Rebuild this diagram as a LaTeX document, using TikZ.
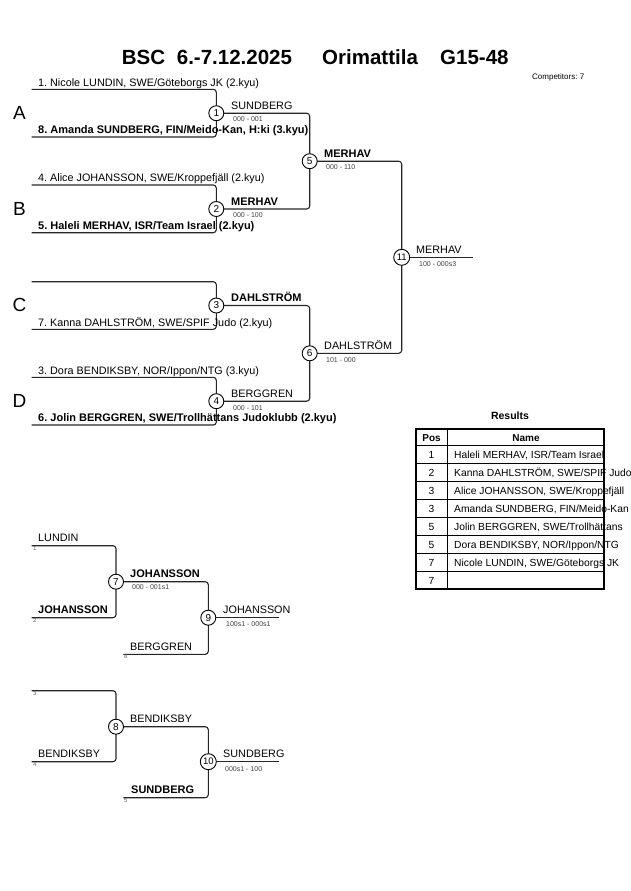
\documentclass[tikz,border=0pt]{standalone}
\usepackage{fontspec}
\setmainfont{Liberation Sans}
\usetikzlibrary{backgrounds}
\frenchspacing
\begin{document}
\begin{tikzpicture}[x=1pt,y=-1pt,
  br/.style={line width=1.1pt, rounded corners=3pt, draw=black!85},
  circ/.style={circle, draw, fill=white, inner sep=0pt, minimum size=15pt, line width=0.9pt, font=\fontsize{10}{10}\selectfont},
  nm/.style={anchor=base west, inner sep=0pt, font=\fontsize{10.8}{12}\selectfont},
  nmb/.style={anchor=base west, inner sep=0pt, font=\bfseries\fontsize{11}{12}\selectfont},
  sc/.style={anchor=west, inner sep=0pt, font=\fontsize{7}{8}\selectfont, text=black!75},
  tn/.style={anchor=base west, inner sep=0pt, font=\fontsize{6}{6}\selectfont, text=black!60},
  grp/.style={anchor=center, inner sep=0pt, font=\fontsize{19}{20}\selectfont},
  ttl/.style={anchor=base west, inner sep=0pt, font=\bfseries\fontsize{20.5}{22}\selectfont},
  cell/.style={anchor=base, inner sep=0pt, font=\fontsize{10.3}{11}\selectfont},
  celll/.style={anchor=base west, inner sep=0pt, font=\fontsize{10.3}{11}\selectfont}]
\useasboundingbox (0,0) rectangle (630,891);
\clip (0,0) rectangle (630,891);
% title
\node[ttl] (t1) at (121.7,65) {BSC};
\node[ttl] (t2) at (176.7,65) {6.-7.12.2025};
\node[ttl] (t3) at (322,65) {Orimattila};
\node[ttl] (t4) at (440,65) {G15-48};
\node[anchor=base west, inner sep=0pt, font=\fontsize{8}{9}\selectfont] (comp) at (532,79) {Competitors: 7};
% group letters
\node[grp] (gA) at (19.5,113) {A};
\node[grp] (gB) at (19.5,209) {B};
\node[grp] (gC) at (19.5,305) {C};
\node[grp] (gD) at (19.5,401) {D};
% entry coordinates
\coordinate (s1) at (31.7,89.3);
\coordinate (s8) at (31.7,137);
\coordinate (s4) at (31.7,185);
\coordinate (s5) at (31.7,232.7);
\coordinate (s0) at (31.7,281.7);
\coordinate (s7) at (31.7,329.3);
\coordinate (s3) at (31.7,377.3);
\coordinate (s6) at (31.7,425);
\coordinate (e11) at (473.3,257.3);
% match circles
\node[circ] (m1) at (216.3,113.2) {1};
\node[circ] (m2) at (216.3,209) {2};
\node[circ] (m3) at (216.3,305.5) {3};
\node[circ] (m4) at (216.3,401.2) {4};
\node[circ] (m5) at (309.7,161.2) {5};
\node[circ] (m6) at (309.7,353.3) {6};
\node[circ, minimum size=16pt, font=\fontsize{9.5}{10}\selectfont] (m11) at (401.7,257.3) {11};
\begin{scope}[on background layer]
\draw[br] (s1) -| (m1.center) |- (s8);
\draw[br] (s4) -| (m2.center) |- (s5);
\draw[br] (s0) -| (m3.center) |- (s7);
\draw[br] (s3) -| (m4.center) |- (s6);
\draw[br] (m1.center) -| (m5.center) |- (m2.center);
\draw[br] (m3.center) -| (m6.center) |- (m4.center);
\draw[br] (m5.center) -| (m11.center) |- (m6.center);
\draw[br] (m11.center) -- (e11);
\end{scope}
% entrant names
\node[nm] (n1) at (38,86) {1. Nicole LUNDIN, SWE/Göteborgs JK (2.kyu)};
\node[nmb] (n8) at (38,133.5) {8. Amanda SUNDBERG, FIN/Meido-Kan, H:ki (3.kyu)};
\node[nm] (n4) at (38,181.5) {4. Alice JOHANSSON, SWE/Kroppefjäll (2.kyu)};
\node[nmb] (n5) at (38,229) {5. Haleli MERHAV, ISR/Team Israel (2.kyu)};
\node[nm] (n7) at (38,326) {7. Kanna DAHLSTRÖM, SWE/SPIF Judo (2.kyu)};
\node[nm] (n3) at (38,374) {3. Dora BENDIKSBY, NOR/Ippon/NTG (3.kyu)};
\node[nmb] (n6) at (38,421.5) {6. Jolin BERGGREN, SWE/Trollhättans Judoklubb (2.kyu)};
% winners and scores
\node[nm] (w1) at (231,109) {SUNDBERG};
\node[sc] (c1) at (233,119.5) {000 - 001};
\node[nmb] (w2) at (231,205) {MERHAV};
\node[sc] (c2) at (233,215) {000 - 100};
\node[nmb] (w3) at (231,301.5) {DAHLSTRÖM};
\node[nm] (w4) at (231,397.5) {BERGGREN};
\node[sc] (c4) at (233,408) {000 - 101};
\node[nmb] (w5) at (324,157) {MERHAV};
\node[sc] (c5) at (326,167) {000 - 110};
\node[nm] (w6) at (324,349.5) {DAHLSTRÖM};
\node[sc] (c6) at (326,360) {101 - 000};
\node[nm] (w11) at (416,253) {MERHAV};
\node[sc] (c11) at (419,264) {100 - 000s3};
% repechage
\coordinate (r1) at (31.7,545.7);
\coordinate (r2) at (31.7,617.7);
\coordinate (r8) at (123.3,654.3);
\coordinate (e9) at (279.3,617.7);
\coordinate (r3) at (31.7,690.7);
\coordinate (r4) at (31.7,761.7);
\coordinate (r5) at (123.3,797.7);
\coordinate (e10) at (279.3,761.7);
\node[circ] (m7) at (116,581.7) {7};
\node[circ] (m9) at (208.3,617.7) {9};
\node[circ] (m8) at (116,726.7) {8};
\node[circ, minimum size=16pt, font=\fontsize{9.5}{10}\selectfont] (m10) at (208.3,761.7) {10};
\begin{scope}[on background layer]
\draw[br] (r1) -| (m7.center) |- (r2);
\draw[br] (m7.center) -| (m9.center);
\draw[br] (r8) -| (m9.center);
\draw[br] (m9.center) -- (e9);
\draw[br] (r3) -| (m8.center) |- (r4);
\draw[br] (m8.center) -| (m10.center);
\draw[br] (r5) -| (m10.center);
\draw[br] (m10.center) -- (e10);
\end{scope}
\node[nm] (q1) at (38,541.5) {LUNDIN};
\node[tn] (k1) at (33,550) {1};
\node[nmb] (q2) at (38,613.5) {JOHANSSON};
\node[tn] (k2) at (33,622) {2};
\node[nmb] (w7) at (130,577) {JOHANSSON};
\node[sc] (c7) at (132,587.5) {000 - 001s1};
\node[nm] (q8) at (130,650) {BERGGREN};
\node[tn] (k8) at (124,658.5) {8};
\node[nm] (w9) at (223,613.5) {JOHANSSON};
\node[sc] (c9) at (226,624) {100s1 - 000s1};
\node[tn] (k3) at (33,695) {3};
\node[nm] (q4) at (38,757.5) {BENDIKSBY};
\node[tn] (k4) at (33,766) {4};
\node[nm] (w8) at (130,722.5) {BENDIKSBY};
\node[nmb] (q5) at (131,793.5) {SUNDBERG};
\node[tn] (k5) at (124,802) {5};
\node[nm] (w10) at (223,757.5) {SUNDBERG};
\node[sc] (c10) at (225,769) {000s1 - 100};
% results table
\node[anchor=base, inner sep=0pt, font=\bfseries\fontsize{10.5}{12}\selectfont] (res) at (510,419) {Results};
\draw[line width=0.8pt] (416,445.7) -- (604,445.7);
\foreach \i in {1,...,7} {\draw[line width=0.8pt] (416,{445.7+17.95*\i}) -- (604,{445.7+17.95*\i});}
\draw[line width=0.8pt] (447.3,429) -- (447.3,589.3);
\draw[line width=1.8pt] (416,429) rectangle (604,589.3);
\node[cell, font=\bfseries\fontsize{10}{11}\selectfont] (hp) at (431.5,441) {Pos};
\node[cell, font=\bfseries\fontsize{10}{11}\selectfont] (hn) at (526,441) {Name};
\foreach \p [count=\i] in {1,2,3,3,5,5,7,7} {
  \node[cell] (p\i) at (431.5,{445.7+17.95*\i-5.2}) {\p};
}
\node[celll] (t1) at (454,{445.7+17.95*1-5.2}) {Haleli MERHAV, ISR/Team Israel};
\node[celll] (t2) at (454,{445.7+17.95*2-5.2}) {Kanna DAHLSTRÖM, SWE/SPIF Judo};
\node[celll] (t3) at (454,{445.7+17.95*3-5.2}) {Alice JOHANSSON, SWE/Kroppefjäll};
\node[celll] (t4) at (454,{445.7+17.95*4-5.2}) {Amanda SUNDBERG, FIN/Meido-Kan};
\node[celll] (t5) at (454,{445.7+17.95*5-5.2}) {Jolin BERGGREN, SWE/Trollhättans};
\node[celll] (t6) at (454,{445.7+17.95*6-5.2}) {Dora BENDIKSBY, NOR/Ippon/NTG};
\node[celll] (t7) at (454,{445.7+17.95*7-5.2}) {Nicole LUNDIN, SWE/Göteborgs JK};
\end{tikzpicture}
\end{document}
